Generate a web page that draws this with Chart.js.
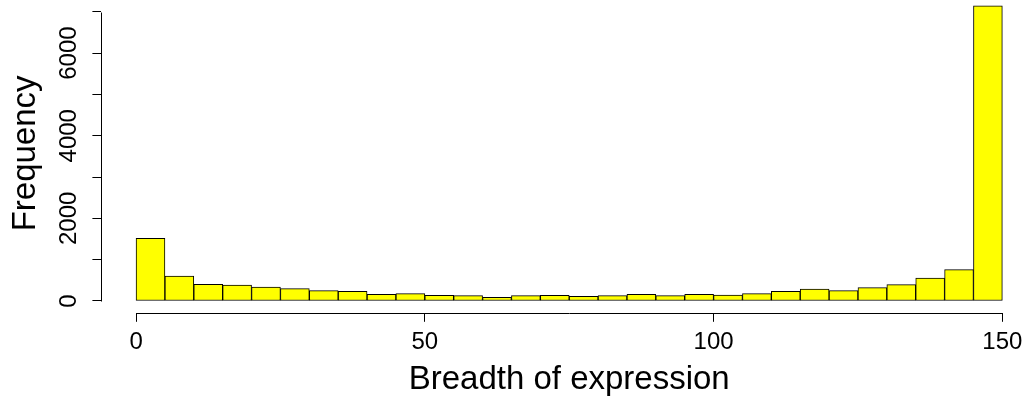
<!DOCTYPE html>
<html>
<head>
<meta charset="utf-8">
<script src="https://cdn.jsdelivr.net/npm/chart.js@4"></script>
<style>
  html, body { margin: 0; padding: 0; background: #fff; overflow: hidden; width: 1026px; height: 396px; }
  /* plot region of the original runs a few px past the top and right edges */
  #wrap { position: absolute; left: 0; top: -6px; width: 1037px; height: 402px; }
</style>
</head>
<body>
<div id="wrap"><canvas id="hist"></canvas></div>
<script>
const binEdges = [0, 5, 10, 15, 20, 25, 30, 35, 40, 45, 50, 55, 60, 65, 70, 75,
                  80, 85, 90, 95, 100, 105, 110, 115, 120, 125, 130, 135, 140, 145, 150];
const counts = [1517, 605, 403, 387, 339, 298, 250, 234, 162, 177,
                137, 129, 89, 129, 137, 113, 129, 161, 129, 161,
                145, 177, 234, 290, 250, 323, 395, 557, 758, 7145];
const xTicks = [0, 50, 100, 150];
const yTicks = [0, 1000, 2000, 3000, 4000, 5000, 6000, 7000];
const yLabelled = [0, 2000, 4000, 6000];

const FONT = "'Liberation Sans', Arial, Helvetica, sans-serif";

document.addEventListener("DOMContentLoaded", () => {

  const points = counts.map((c, i) => ({ x: (binEdges[i] + binEdges[i + 1]) / 2, y: c }));

  // R style range: data range stretched 4% each side
  const xPad = 0.04 * (binEdges[binEdges.length - 1] - binEdges[0]);
  const yMax = Math.max(...counts);
  const yPad = 0.04 * yMax;

  // axis lines only span the ticks, like base R
  const rAxes = {
    id: "rAxes",
    afterDraw(chart) {
      const { ctx, chartArea, scales: { x, y } } = chart;
      ctx.save();
      ctx.strokeStyle = "#000";
      ctx.lineWidth = 1;
      ctx.beginPath();
      const yb = Math.round(chartArea.bottom) + 0.5;
      ctx.moveTo(Math.round(x.getPixelForValue(xTicks[0])) + 0.5, yb);
      ctx.lineTo(Math.round(x.getPixelForValue(xTicks[xTicks.length - 1])) + 0.5, yb);
      const xl = Math.round(chartArea.left) + 0.5;
      ctx.moveTo(xl, Math.round(y.getPixelForValue(yTicks[0])) + 0.5);
      ctx.lineTo(xl, Math.round(y.getPixelForValue(yTicks[yTicks.length - 1])) + 0.5);
      ctx.stroke();
      ctx.restore();
    }
  };

  new Chart(document.getElementById("hist"), {
    type: "bar",
    data: {
      datasets: [{
        data: points,
        backgroundColor: "#ffff00",
        borderColor: "#000",
        borderWidth: 1,
        borderSkipped: false,
        barPercentage: 1,
        categoryPercentage: 1
      }]
    },
    options: {
      responsive: true,
      maintainAspectRatio: false,
      animation: false,
      layout: { padding: 0 },
      plugins: { legend: { display: false }, tooltip: { enabled: false } },
      scales: {
        x: {
          type: "linear",
          offset: false,
          min: binEdges[0] - xPad,
          max: binEdges[binEdges.length - 1] + xPad,
          afterBuildTicks: s => { s.ticks = xTicks.map(v => ({ value: v })); },
          afterFit: s => { s.height = 83.2; s.paddingLeft = 0; s.paddingRight = 0; },
          border: { display: false },
          grid: { offset: false, drawOnChartArea: false, tickLength: 9, color: "#000", lineWidth: 1 },
          ticks: {
            autoSkip: false, maxRotation: 0, padding: 6, color: "#000",
            font: { family: FONT, size: 24 }
          },
          title: {
            display: true, text: "Breadth of expression", color: "#000",
            font: { family: FONT, size: 33, lineHeight: 1 },
            padding: { top: 0, bottom: 0 }
          }
        },
        y: {
          min: -yPad,
          max: yMax + yPad,
          afterBuildTicks: s => { s.ticks = yTicks.map(v => ({ value: v })); },
          afterFit: s => { s.width = 101.4; s.paddingTop = 0; s.paddingBottom = 0; },
          border: { display: false },
          grid: { drawOnChartArea: false, tickLength: 9, color: "#000", lineWidth: 1 },
          ticks: {
            autoSkip: false, minRotation: 90, maxRotation: 90, crossAlign: "center",
            padding: -3.8, color: "#000",
            font: { family: FONT, size: 24 },
            callback: v => yLabelled.includes(v) ? String(v) : ""
          },
          title: {
            display: true, text: "Frequency", color: "#000",
            font: { family: FONT, size: 33, lineHeight: 1 },
            padding: { top: 9, bottom: 0 }
          }
        }
      }
    },
    plugins: [rAxes]
  });

});
</script>
</body>
</html>
